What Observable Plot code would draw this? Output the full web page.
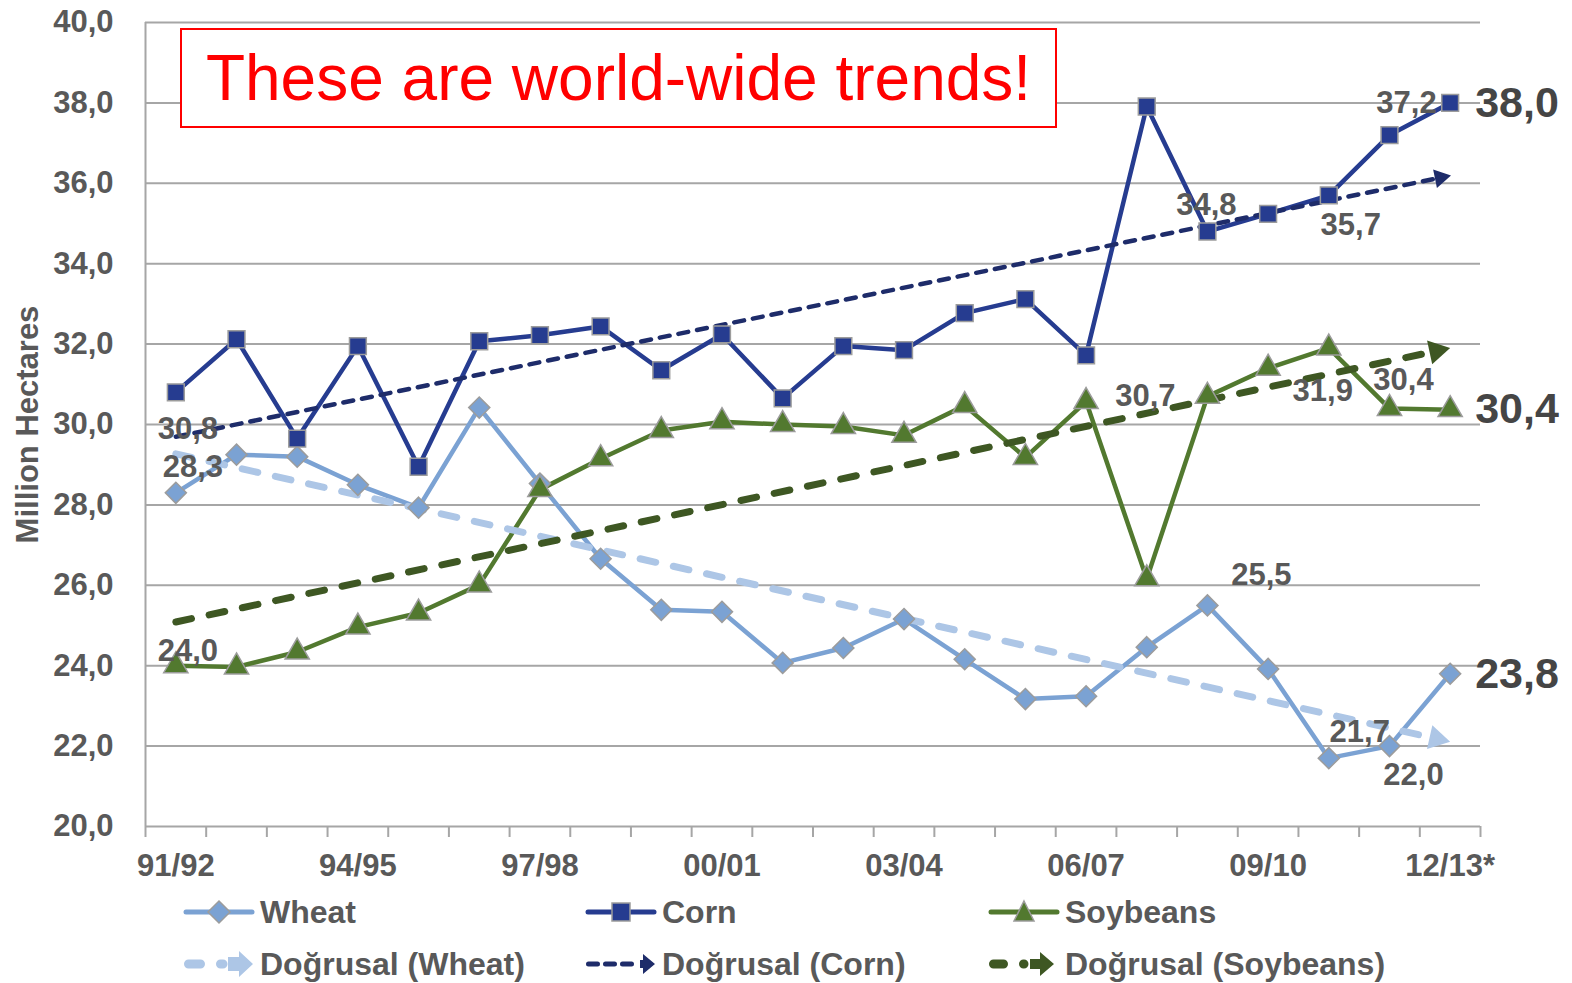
<!DOCTYPE html>
<html><head><meta charset="utf-8">
<script src="https://cdn.jsdelivr.net/npm/d3@7"></script>
<script src="https://cdn.jsdelivr.net/npm/@observablehq/plot@0.6"></script>
<style>
body{margin:0;background:#fff;font-family:'Liberation Sans',Arial,sans-serif;}
#wrap{position:relative;width:1572px;height:983px;overflow:hidden;}
#box{position:absolute;left:180px;top:28px;width:873px;height:96px;border:2px solid #ff0000;background:#fff;color:#ff0000;font-size:64px;line-height:96px;text-align:center;white-space:nowrap;}
.leg{position:absolute;font-weight:bold;font-size:32px;color:#595959;white-space:nowrap;line-height:32px;}
.sw{position:absolute;}
</style></head><body><div id="wrap"></div>
<script>
// ---- data ----
const seasons = ["91/92","92/93","93/94","94/95","95/96","96/97","97/98","98/99","99/00","00/01","01/02","02/03","03/04","04/05","05/06","06/07","07/08","08/09","09/10","10/11","11/12","12/13*"];
const wheat    = [28.3,29.25,29.2,28.5,27.93,30.42,28.53,26.66,25.39,25.34,24.07,24.44,25.16,24.16,23.17,23.24,24.46,25.5,23.92,21.7,22.0,23.8];
const corn     = [30.8,32.12,29.65,31.95,28.95,32.07,32.22,32.44,31.35,32.24,30.65,31.95,31.85,32.77,33.12,31.72,37.91,34.8,35.24,35.7,37.2,38.0];
const soybeans = [24.0,23.97,24.34,24.96,25.31,26.01,28.38,29.15,29.85,30.07,30.0,29.95,29.73,30.47,29.18,30.57,26.16,30.7,31.4,31.9,30.4,30.37];
const yTicks = [20,22,24,26,28,30,32,34,36,38,40];
const xTickLabels = ["91/92","94/95","97/98","00/01","03/04","06/07","09/10","12/13*"];
const labelIdx = [0, 17, 19, 20];   // seasons with value labels
const lastIdx = 21;                 // season with the big end label
const titleText = "These are world-wide trends!";
const yLabel = "Million Hectares";
const legendNames = ["Wheat","Corn","Soybeans","Doğrusal (Wheat)","Doğrusal (Corn)","Doğrusal (Soybeans)"];

// ---- layout / styles ----
const W = 1572, H = 882, ML = 145, MR = 92, MT = 22, MB = 56;
const pxX = (W - ML - MR) / 22, pxY = (H - MT - MB) / 20;
const C = {
  wheat: "#7ba2d3", corn: "#263c90", soy: "#52792f",
  wheatT: "#adc6e6", cornT: "#1e2c6a", soyT: "#3e5723",
  grid: "#a6a6a6", text: "#595959", big: "#454545", mstroke: "#9c9c9c"
};
// label offsets [dx, dy] per series for labelIdx order
const off = {
  wheat: [[17,-26],[54,-30],[31,-26],[24,29]],
  corn:  [[12,37],[-1,-26],[22,30],[17,-32]],
  soy:   [[12,-15],[-62,0],[-6,43],[14,-28]]
};
const fmt = v => v.toFixed(1).replace(".", ",");
const rows = arr => arr.map((v, i) => ({i, v}));

function trend(vals, tipPx) {
  const n = vals.length, mx = d3.mean(d3.range(n)), my = d3.mean(vals);
  let sxy = 0, sxx = 0;
  vals.forEach((v, i) => { sxy += (i - mx) * (v - my); sxx += (i - mx) ** 2; });
  const b = sxy / sxx, a = my - b * mx;
  const th = Math.atan(b * pxY / pxX);
  const iEnd = (n - 1) - tipPx * Math.cos(th) / pxX;
  return {
    line: [{i: 0, v: a}, {i: iEnd, v: a + b * iEnd}],
    head: [{i: iEnd, v: a + b * iEnd, rot: 90 - th * 180 / Math.PI}]
  };
}
const tW = trend(wheat, 14), tC = trend(corn, 10), tS = trend(soybeans, 14);

function labelsFor(vals, o) {
  return labelIdx.map((k, j) => ({i: k, v: vals[k], t: fmt(vals[k]), dx: o[j][0], dy: o[j][1]}));
}
const labs = [...labelsFor(wheat, off.wheat), ...labelsFor(corn, off.corn), ...labelsFor(soybeans, off.soy)];
const bigLabs = [wheat, corn, soybeans].map(a => ({i: lastIdx, v: a[lastIdx], t: fmt(a[lastIdx])}));

const FS = 31;
const textOpts = {fontWeight: "bold", fontSize: FS, fill: C.text};

const plot = Plot.plot({
  width: W, height: H, marginLeft: ML, marginRight: MR, marginTop: MT, marginBottom: MB,
  style: "font-family:'Liberation Sans',Arial,sans-serif;background:transparent;overflow:visible;",
  x: {domain: [-0.5, 21.5], axis: null},
  y: {domain: [20, 40], axis: null},
  marks: [
    Plot.ruleY(yTicks, {stroke: C.grid, strokeWidth: 2}),
    Plot.ruleX([-0.5], {y1: 20, y2: 40, stroke: C.grid, strokeWidth: 2}),
    Plot.axisY({ticks: yTicks, tickSize: 0, tickPadding: 32, tickFormat: fmt, label: null, ...textOpts}),
    Plot.axisX({ticks: d3.range(-0.5, 22, 1), tickSize: 11, tickFormat: () => "", stroke: C.grid, strokeWidth: 2, label: null}),
    Plot.axisX({ticks: d3.range(0, 22, 3), tickSize: 0, tickPadding: 27, tickFormat: i => seasons[i], label: null, ...textOpts}),
    Plot.text([yLabel], {frameAnchor: "left", dx: -117, rotate: -90, textAnchor: "middle", text: d => d, ...textOpts}),

    Plot.line(rows(wheat), {x: "i", y: "v", stroke: C.wheat, strokeWidth: 4.5}),
    Plot.line(rows(corn), {x: "i", y: "v", stroke: C.corn, strokeWidth: 4.5}),
    Plot.line(rows(soybeans), {x: "i", y: "v", stroke: C.soy, strokeWidth: 4.5}),

    Plot.line(tW.line, {x: "i", y: "v", stroke: C.wheatT, strokeWidth: 7, strokeDasharray: "16 18", strokeLinecap: "round"}),
    Plot.dot(tW.head, {x: "i", y: "v", symbol: "triangle", r: 9, rotate: "rot", fill: C.wheatT}),
    Plot.line(tC.line, {x: "i", y: "v", stroke: C.cornT, strokeWidth: 4.5, strokeDasharray: "10 9", strokeLinecap: "round"}),
    Plot.dot(tC.head, {x: "i", y: "v", symbol: "triangle", r: 7, rotate: "rot", fill: C.cornT}),
    Plot.line(tS.line, {x: "i", y: "v", stroke: C.soyT, strokeWidth: 7, strokeDasharray: "16 18", strokeLinecap: "round"}),
    Plot.dot(tS.head, {x: "i", y: "v", symbol: "triangle", r: 9, rotate: "rot", fill: C.soyT}),

    Plot.dot(rows(wheat), {x: "i", y: "v", symbol: "diamond2", r: 9.5, fill: C.wheat, stroke: C.mstroke, strokeWidth: 1.5}),
    Plot.dot(rows(corn), {x: "i", y: "v", symbol: "square", r: 9.5, fill: C.corn, stroke: C.mstroke, strokeWidth: 1.5}),
    Plot.dot(rows(soybeans), {x: "i", y: "v", symbol: "triangle", r: 9, fill: C.soy, stroke: C.mstroke, strokeWidth: 1.5}),

    ...labs.map(d => Plot.text([d], {x: "i", y: "v", text: "t", dx: d.dx, dy: d.dy, ...textOpts})),
    Plot.text(bigLabs, {x: "i", y: "v", text: "t", dx: 25, textAnchor: "start", fontWeight: "bold", fontSize: 43, fill: C.big})
  ]
});
const wrap = document.getElementById("wrap");
wrap.appendChild(plot);

// title box
const box = document.createElement("div");
box.id = "box"; box.textContent = titleText;
wrap.appendChild(box);

// legend
const lineSw = (c, sym) => `<svg width="72" height="30"><line x1="3" y1="15" x2="69" y2="15" stroke="${c}" stroke-width="5" stroke-linecap="round"/>${sym}</svg>`;
const diamond = `<path d="M36,4 L47,15 L36,26 L25,15Z" fill="${C.wheat}" stroke="${C.mstroke}" stroke-width="1.5"/>`;
const square = `<rect x="27" y="6" width="18" height="18" fill="${C.corn}" stroke="${C.mstroke}" stroke-width="1.5"/>`;
const tri = `<path d="M36,4 L46,24 L26,24Z" fill="${C.soy}" stroke="${C.mstroke}" stroke-width="1.5"/>`;
const trendSw = (c, w, dash, head) => `<svg width="72" height="30"><line x1="${w/2+1}" y1="15" x2="${head[0]}" y2="15" stroke="${c}" stroke-width="${w}" stroke-dasharray="${dash}" stroke-linecap="round"/><path d="${head[1]}" fill="${c}"/></svg>`;
const legendItems = [
  [183, 912, lineSw(C.wheat, diamond)],
  [585, 912, lineSw(C.corn, square)],
  [988, 912, lineSw(C.soy, tri)],
  [183, 964, trendSw(C.wheatT, 9, "12 20", [40, "M45,8 L56,8 L56,2 L70,15 L56,28 L56,22 L45,22Z"])],
  [585, 964, trendSw(C.cornT, 5, "9 8", [52, "M55,11 L58,11 L58,5 L70,15 L58,25 L58,19 L55,19Z"])],
  [988, 964, trendSw(C.soyT, 9, "10 20", [36, "M42,10 L52,10 L52,3 L66,15 L52,27 L52,20 L42,20Z"])]
];
legendItems.forEach(([x, y, svg], k) => {
  const s = document.createElement("div");
  s.className = "sw"; s.style.left = x + "px"; s.style.top = (y - 15) + "px"; s.innerHTML = svg;
  wrap.appendChild(s);
  const t = document.createElement("div");
  t.className = "leg"; t.style.left = (x + 77) + "px"; t.style.top = (y - 16) + "px"; t.textContent = legendNames[k];
  wrap.appendChild(t);
});
</script></body></html>
